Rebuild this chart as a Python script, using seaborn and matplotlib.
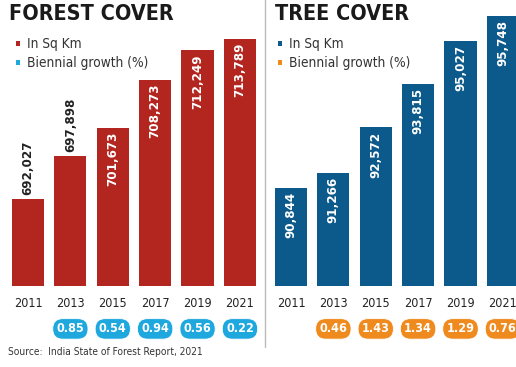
import matplotlib
matplotlib.use("Agg")
import matplotlib.pyplot as plt
import matplotlib.transforms as mtransforms
import seaborn as sns
import pandas as pd

years = ["2011", "2013", "2015", "2017", "2019", "2021"]
forest_area = [692027, 697898, 701673, 708273, 712249, 713789]
forest_growth = ["", "0.85", "0.54", "0.94", "0.56", "0.22"]
tree_area = [90844, 91266, 92572, 93815, 95027, 95748]
tree_growth = ["", "0.46", "1.43", "1.34", "1.29", "0.76"]

sns.set_theme(style="white")
plt.rcParams['font.family'] = ['DejaVu Sans']
plt.rcParams['font.stretch'] = 'condensed'

W, H = 516, 367
fig = plt.figure(figsize=(W / 100, H / 100), dpi=100)

RED = "#b3261f"
BLUE = "#0c598b"
CYAN = "#1fa8de"
ORANGE = "#ef8a1f"

def px_axes(x0, x1, ytop, ybot):
    return fig.add_axes([x0 / W, (H - ybot) / H, (x1 - x0) / W, (ybot - ytop) / H])

def panel(ax, values, growth, color, pill_color, ylim, xlim, inside_from):
    df = pd.DataFrame({"year": years, "value": values})
    sns.barplot(data=df, x="year", y="value", color=color, width=0.76,
                saturation=1, ax=ax, edgecolor="none")
    ax.set_ylim(*ylim)
    ax.set_xlim(*xlim)
    for s in ax.spines.values():
        s.set_visible(False)
    ax.set_yticks([])
    ax.set_xlabel("")
    ax.set_ylabel("")
    ax.tick_params(axis="x", length=0, pad=8, labelsize=9, labelcolor="#222222")
    rng = ylim[1] - ylim[0]
    for i, v in enumerate(values):
        lab = f"{v:,}"
        if i >= inside_from:
            ax.text(i, v - rng * 0.014, lab, rotation=90, ha="center", va="top",
                    color="white", fontsize=9.5, fontweight="bold")
        else:
            ax.text(i, v + rng * 0.014, lab, rotation=90, ha="center", va="bottom",
                    color="#222222", fontsize=9.5, fontweight="bold")
    trans = mtransforms.blended_transform_factory(ax.transData, ax.transAxes)
    for i, g in enumerate(growth):
        if g:
            ax.text(i, -0.150, g, transform=trans, ha="center", va="center",
                    color="white", fontsize=9, fontweight="bold",
                    bbox=dict(boxstyle="round,pad=0.3,rounding_size=0.8",
                              fc=pill_color, ec="white", lw=0.6))

axL = px_axes(0, 262, 0, 286)
panel(axL, forest_area, forest_growth, RED, CYAN, (680197, 719087), (-0.66, 5.52), 2)
axR = px_axes(262, 516, 0, 286)
panel(axR, tree_area, tree_growth, BLUE, ORANGE, (88050, 96205), (-0.684, 5.31), 0)

# titles and legends
fig.text(9 / W, 1 - 14 / H, "FOREST COVER", fontsize=15.5, fontweight="heavy",
         color="#1a1a1a", va="center", ha="left")
fig.text(275 / W, 1 - 14 / H, "TREE COVER", fontsize=15.5, fontweight="heavy",
         color="#1a1a1a", va="center", ha="left")

def legend(x, color1, color2):
    for j, (c, t) in enumerate([(color1, "In Sq Km"), (color2, "Biennial growth (%)")]):
        y = 44 + j * 19
        fig.patches.append(plt.Rectangle(((x) / W, 1 - (y + 2) / H), 4 / W, 5 / H,
                                         transform=fig.transFigure, fc=c, ec="none"))
        fig.text((x + 11) / W, 1 - y / H, t, fontsize=9.8, color="#333333",
                 va="center", ha="left")

legend(16, RED, CYAN)
legend(278, BLUE, ORANGE)

# divider
fig.add_artist(plt.Line2D([265 / W, 265 / W], [1 - 0 / H, 1 - 347 / H],
                          transform=fig.transFigure, color="#bbbbbb", lw=1))

fig.text(8 / W, 1 - 352 / H, "Source:  India State of Forest Report, 2021",
         fontsize=7.3, color="#333333", va="center", ha="left")

fig.savefig("out.png", dpi=100)
